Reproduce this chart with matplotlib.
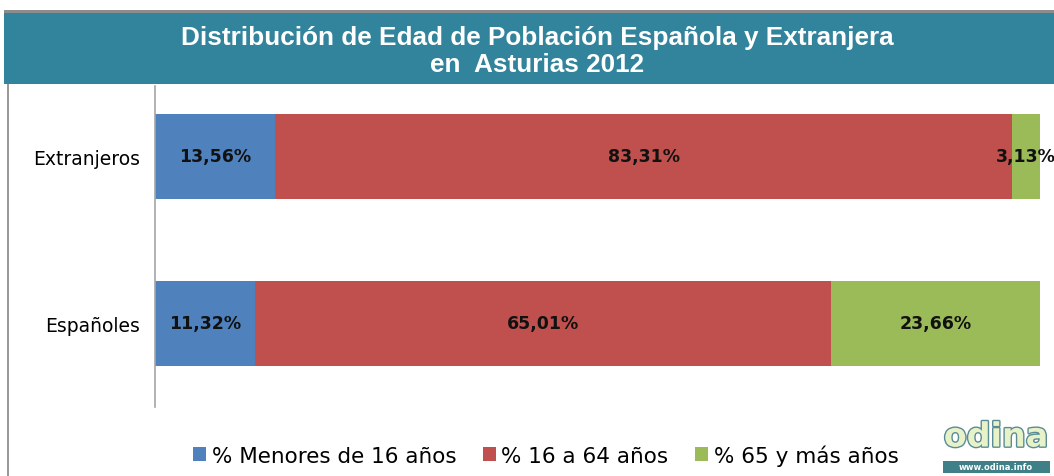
import matplotlib
matplotlib.use("Agg")
import matplotlib.pyplot as plt
import matplotlib.patheffects as pe
from matplotlib.patches import Rectangle

categories = ["Españoles", "Extranjeros"]
menores = [11.32, 13.56]
adultos = [65.01, 83.31]
mayores = [23.66, 3.13]
series_names = ["% Menores de 16 años", "% 16 a 64 años", "% 65 y más años"]
colors = ["#4F81BD", "#C0504D", "#9BBB59"]

W, H = 1054, 477
fig = plt.figure(figsize=(W / 100, H / 100), dpi=100)

def fx(px):
    return px / W

def fy(py):
    return 1 - py / H

# title band
fig.patches.append(Rectangle((fx(4), fy(85)), fx(1054 - 4), 73 / H, transform=fig.transFigure,
                             facecolor="#31849B", edgecolor="none", zorder=0))
fig.patches.append(Rectangle((fx(4), fy(14)), fx(1050), 3 / H, transform=fig.transFigure,
                             facecolor="#8C8C8C", edgecolor="none", zorder=0))
fig.patches.append(Rectangle((fx(7), fy(477)), 2 / W, (477 - 85) / H, transform=fig.transFigure,
                             facecolor="#9A9A9A", edgecolor="none", zorder=0))
fig.text(fx(537), fy(38), "Distribución de Edad de Población Española y Extranjera",
         ha="center", va="center", color="white", fontsize=18.8, fontweight="bold",
         family="Liberation Sans")
fig.text(fx(537), fy(65), "en  Asturias 2012", ha="center", va="center", color="white",
         fontsize=18.8, fontweight="bold", family="Liberation Sans")

ax = fig.add_axes([fx(155), fy(408), fx(1040) - fx(155), (408 - 87) / H])
ax.set_xlim(0, 100)
ax.set_ylim(-0.5, 1.422)
y = list(range(len(categories)))
h = 85 / 167
left = [0] * len(categories)
for vals, c, name in zip([menores, adultos, mayores], colors, series_names):
    bars = ax.barh(y, vals, left=left, height=h, color=c, label=name)
    for yi, v, l in zip(y, vals, left):
        ax.text(l + v / 2, yi, f"{v:.2f}%".replace(".", ","), ha="center", va="center",
                fontsize=12.5, fontweight="bold", color="#111111", clip_on=False)
    left = [a + b for a, b in zip(left, vals)]

for s in ["top", "right", "bottom"]:
    ax.spines[s].set_visible(False)
ax.spines["left"].set_color("#A6A6A6")
ax.spines["left"].set_linewidth(1.2)
ax.set_xticks([])
ax.set_yticks(y)
ax.set_yticklabels(categories, fontsize=13.5)
ax.tick_params(axis="y", length=0, pad=11)

leg = fig.legend(loc="center", bbox_to_anchor=(fx(546), fy(456)), ncol=3, frameon=False,
                 fontsize=15.5, handlelength=0.6, handleheight=0.6, handletextpad=0.25,
                 columnspacing=1.25)

# logo
fig.text(fx(996), fy(438), "odina", ha="center", va="center", fontsize=24, fontweight="bold",
         color="#E8F2C8", family="DejaVu Sans",
         path_effects=[pe.withStroke(linewidth=2, foreground="#5A8C96")])
fig.patches.append(Rectangle((fx(943), fy(474)), fx(107), 12 / H, transform=fig.transFigure,
                             facecolor="#3F7F88", edgecolor="none"))
fig.text(fx(996), fy(468), "www.odina.info", ha="center", va="center", fontsize=6,
         fontweight="bold", color="white")

fig.savefig("out.png", dpi=100)
